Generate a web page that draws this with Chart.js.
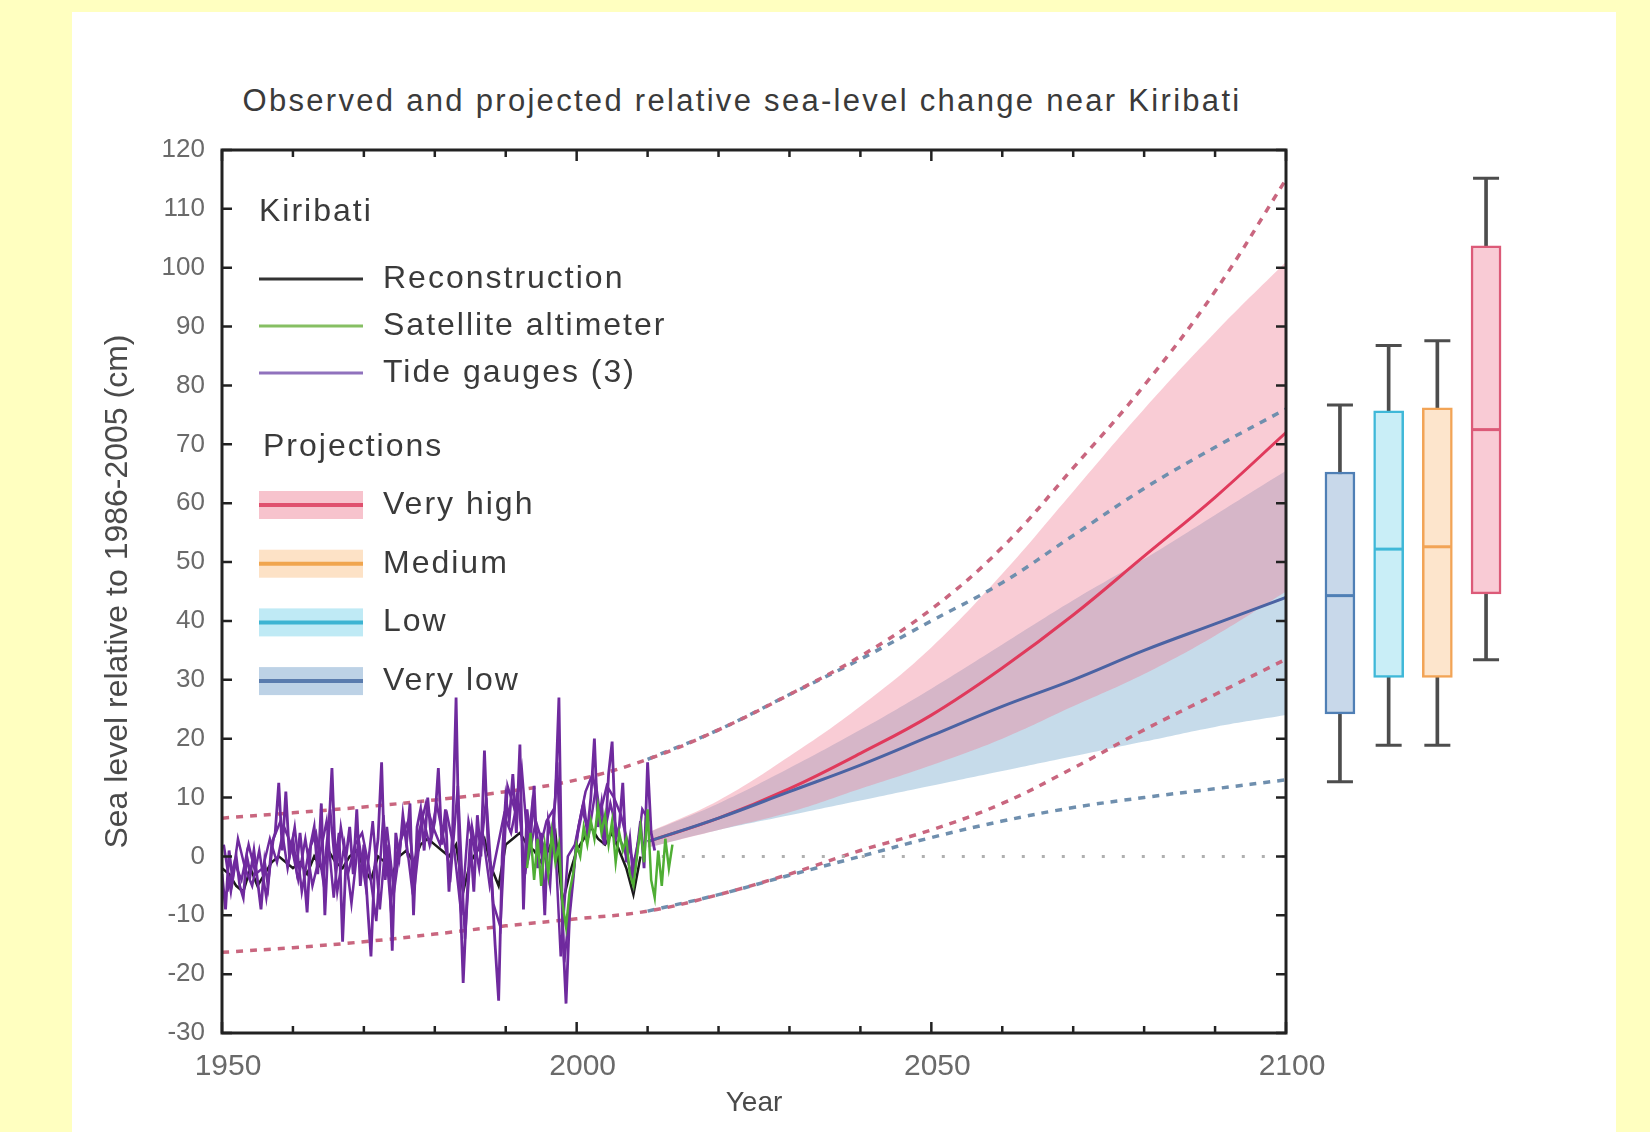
<!DOCTYPE html>
<html>
<head>
<meta charset="utf-8">
<script src="https://cdn.jsdelivr.net/npm/chart.js@4.4.0/dist/chart.umd.min.js"></script>
<style>
  html, body { margin: 0; padding: 0; }
  body { width: 1650px; height: 1132px; background: #ffffc0; position: relative; overflow: hidden; font-family: "Liberation Sans", Arial, sans-serif; }
  #panel { position: absolute; left: 72px; top: 12px; width: 1544px; height: 1120px; background: #fff; }
  #title { position: absolute; left: 0; width: 1484px; top: 82px; line-height: 38px; text-align: center; font-size: 31px; letter-spacing: 2.3px; color: #3a3a3a; }
  #mainChart { position: absolute; left: 0; top: 0; }
  #boxChart { position: absolute; left: 1290px; top: 0; }
</style>
</head>
<body>
<div id="panel"></div>
<div id="title">Observed and projected relative sea-level change near Kiribati</div>
<canvas id="mainChart" width="1340" height="1132"></canvas>
<canvas id="boxChart" width="326" height="1132"></canvas>
<script>
const FONT = '"Liberation Sans", Arial, sans-serif';

// observed records: three tide gauges
const tide1Start = 1950;
const tide1Step = 0.5;
const tideGauge1 = [
  -3, -9, 1, -4, 0, -5, -7, 0, -3, 1,
  -4, -9, -1, -5, 2, 4, 12.5, 1, 11, 0,
  3, -2, 4, -2, -9.5, 2, 5, -3, 9, -10,
  3, 15, -1, 4, -14.5, 0, 5, -3, 8, -5,
  2, -8, -17, -2, 3, 16, -4, 2, -16, 4,
  0, 7, 2, 9, -10, 5, 8, 1, 10, 3,
  6, 15, 2, 8, -6, 4, 27, -4, -21.5, -8,
  3, -6, 7, 0, 18, 2, -4, -15, -24.5, 0,
  10, 6, 14, 4, 19, -9, 8, 3, 12, -2,
  4, -10, 6, 3, 10, 27, -12, -25, -10, -4,
  3, 6, 9, 4, 10, 20, 5, 9, 2, 14,
  19.5, 3, 5, 12.5, -1, 3, -4, 1, 6, -2,
  16, 4, 1
];

const tide2Start = 1950.25;
const tide2Step = 1;
const tideGauge2 = [
  2, -6, 3, -2, -5, 1, -7, 3, 6, -2,
  5, -6, 1, 4, -4, 8, -6, 2, -8, 3,
  -5, 6, -9, 5, -6, 3, 6, -4, 7, 2,
  9, 3, -3, 12, -14, 5, -2, 10, -8, -12,
  12, 8, 15, 0, 6, 2, -5, 16, -18, -6,
  5, 11, 14, 7, 12, 10, 7, 2, -2, 8,
  6
];

const tide3Start = 1950.75;
const tide3Step = 1;
const tideGauge3 = [
  -6, -1, -4, 2, -3, -2, 3, -1, 5, 2,
  -4, 3, -5, 0, 6, -7, 5, -3, 2, 4,
  -2, -11, 7, -8, 1, 5, -5, 4, 9, 5,
  2, 7, 1, -10, 6, 0, 4, -5, 1, 7,
  4, 10, -3, 9, 1, 6, 8, -17, 0, 2,
  8, 4, 12, 3, 9, 4, 1, -3, 3
];

const reconStart = 1950;
const reconStep = 1;
const reconstruction = [
  -2, -3, -5, -6, -2, -5, -3, -1, 0, -1,
  -2, -1, -3, 0, -2, 1, -1, -2, 0, 1,
  -2, -4, 0, -1, -3, 0, 1, -1, 2, 3,
  2, 1, 0, 2, -6, -1, 1, 3, -2, -5,
  2, 3, 4, 2, 1, -1, 1, 4, -8, -3,
  1, 3, 5, 3, 2, 4, 1, -2, -6.5, 0
];

const satStart = 1993;
const satStep = 0.5;
const satellite = [
  -2, 4, -4, 3, -5, 2, -3, 4, -1, 2,
  -8, -12, -6, -3, 2, 0, 5, 2, 6, 3,
  8.5, 4, 7, 2, 6, -1, 4, 1, 3, -3,
  -5, 0, 5, -1, 8, -4, -7, 1, -5, 3,
  -2, 2
];

// projections
const dashYears = [1950, 1960, 1970, 1980, 1990, 2000, 2010, 2020, 2030, 2040, 2050, 2060, 2070, 2080, 2090, 2100];
const vhUpperDash = [6.5, 7.4, 8.4, 9.6, 11, 13, 16.5, 21.5, 27.5, 34, 42, 52.5, 66, 80, 96, 115];
const vhLowerDash = [-16.3, -15.5, -14.5, -13.2, -11.8, -10.6, -9.3, -6.5, -3, 1, 4.5, 9, 15, 21.5, 27.5, 33.5];

const projYears = [2010, 2020, 2030, 2040, 2050, 2060, 2070, 2080, 2090, 2100];
const vlUpperDash = [16.5, 21.5, 27.5, 33.5, 40, 46.5, 54.5, 62.5, 69.5, 76];
const vlLowerDash = [-9.3, -6.5, -3.2, 0, 3.2, 6, 8.3, 10, 11.5, 13];
const vhMedian = [2.5, 6.5, 11.5, 17.5, 24, 32, 41, 51, 61, 72];
const vhUpper = [4, 9.5, 17, 25.5, 35.5, 48, 62, 76, 89, 101];
const vhLower = [1.5, 4.5, 7.5, 11.5, 15.5, 20, 25.5, 31, 37.5, 45];
const vlMedian = [2.5, 6.5, 11, 15.5, 20.5, 25.5, 30, 35, 39.5, 44];
const vlUpper = [4, 9, 15, 21.5, 28.5, 36, 43.5, 50.5, 58, 65.5];
const vlLower = [1.5, 4.5, 7, 9.5, 12, 14.5, 17, 19.5, 22, 24];

const zeroYears = [2012, 2100];
const zeroLevel = [0, 0];

// axis ticks
const yTickValues = [-30, -20, -10, 0, 10, 20, 30, 40, 50, 60, 70, 80, 90, 100, 110, 120];
const xTickYears = [1950, 1960, 1970, 1980, 1990, 2000, 2010, 2020, 2030, 2040, 2050, 2060, 2070, 2080, 2090, 2100];

// 2100 box plots
const boxLabels = ['Very low', 'Low', 'Medium', 'Very high'];
const boxMin = [12.7, 18.9, 18.9, 33.4];
const boxQ1 = [24.2, 30.4, 30.4, 44.6];
const boxMedian = [44.3, 52.2, 52.6, 72.5];
const boxQ3 = [65.3, 75.7, 76.2, 103.7];
const boxMax = [76.7, 86.8, 87.6, 115.2];
const boxFill = ['#c8d8ea', '#c9eef7', '#fde5cc', '#f9cbd5'];
const boxEdge = ['#4f7fb5', '#3fb8d8', '#f2a456', '#dc5a78'];

const legendObserved = [
  { label: 'Reconstruction', color: '#333333' },
  { label: 'Satellite altimeter', color: '#86bf63' },
  { label: 'Tide gauges (3)', color: '#9072bd' }
];
const legendProjections = [
  { label: 'Very high', band: '#f7c3cd', line: '#e0506e' },
  { label: 'Medium', band: '#fde2c6', line: '#f0a54e' },
  { label: 'Low', band: '#bfeaf5', line: '#3db4d2' },
  { label: 'Very low', band: '#bdd2e6', line: '#5a7cae' }
];

function regular(start, step, values) {
  return values.map((v, i) => ({ x: start + i * step, y: v }));
}
function paired(xs, ys) {
  return xs.map((x, i) => ({ x: x, y: ys[i] }));
}
function line(label, data, opts) {
  return Object.assign({ label: label, data: data, pointRadius: 0, borderWidth: 3, fill: false, tension: 0 }, opts);
}

const purple = '#6f2a9e';
const redDash = '#c9667f';
const blueDash = '#6f8fae';

const datasets = [
  line('Satellite altimeter', regular(satStart, satStep, satellite), { borderColor: '#4fae34', borderWidth: 2.5, order: 1 }),
  line('Tide gauge 1', regular(tide1Start, tide1Step, tideGauge1), { borderColor: purple, borderWidth: 2.8, order: 2 }),
  line('Tide gauge 2', regular(tide2Start, tide2Step, tideGauge2), { borderColor: purple, borderWidth: 2.5, order: 2 }),
  line('Tide gauge 3', regular(tide3Start, tide3Step, tideGauge3), { borderColor: purple, borderWidth: 2.5, order: 2 }),
  line('Reconstruction', regular(reconStart, reconStep, reconstruction), { borderColor: '#1a1a1a', borderWidth: 2.5, order: 3 }),
  line('Very low', paired(projYears, vlMedian), { borderColor: '#4b63a3', tension: 0.4, order: 4 }),
  line('Very high', paired(projYears, vhMedian), { borderColor: '#e03a5c', tension: 0.4, order: 5 }),
  line('zero', paired(zeroYears, zeroLevel), { borderColor: '#b0b0b0', borderWidth: 3, borderDash: [3, 17], order: 6 }),
  line('very high upper', paired(dashYears, vhUpperDash), { borderColor: redDash, borderWidth: 3.5, borderDash: [7, 7], tension: 0.4, order: 7 }),
  line('very high lower', paired(dashYears, vhLowerDash), { borderColor: redDash, borderWidth: 3.5, borderDash: [7, 7], tension: 0.4, order: 7 }),
  line('very low upper', paired(projYears, vlUpperDash), { borderColor: blueDash, borderWidth: 3.5, borderDash: [7, 7], tension: 0.4, order: 7 }),
  line('very low lower', paired(projYears, vlLowerDash), { borderColor: blueDash, borderWidth: 3.5, borderDash: [7, 7], tension: 0.4, order: 7 })
];
// shaded ranges, each filled down to the dataset that follows it
const vhRangeIndex = datasets.length;
datasets.push(
  line('very high range', paired(projYears, vhUpper), { borderWidth: 0, tension: 0.4, fill: vhRangeIndex + 1, backgroundColor: 'rgba(238,120,145,0.38)', order: 8 }),
  line('very high range low', paired(projYears, vhLower), { borderWidth: 0, tension: 0.4, order: 8 })
);
const vlRangeIndex = datasets.length;
datasets.push(
  line('very low range', paired(projYears, vlUpper), { borderWidth: 0, tension: 0.4, fill: vlRangeIndex + 1, backgroundColor: 'rgba(120,170,205,0.42)', order: 9 }),
  line('very low range low', paired(projYears, vlLower), { borderWidth: 0, tension: 0.4, order: 9 })
);

// inward tick marks and the closed frame
const framePlugin = {
  id: 'frame',
  afterDraw(chart) {
    const { ctx, chartArea: a, scales: { x, y } } = chart;
    ctx.save();
    ctx.strokeStyle = '#222';
    ctx.lineWidth = 3;
    ctx.strokeRect(a.left, a.top, a.right - a.left, a.bottom - a.top);
    ctx.lineWidth = 2.5;
    ctx.beginPath();
    yTickValues.forEach(v => {
      const py = y.getPixelForValue(v);
      ctx.moveTo(a.left, py); ctx.lineTo(a.left + 10, py);
      ctx.moveTo(a.right, py); ctx.lineTo(a.right - 10, py);
    });
    xTickYears.forEach(v => {
      const px = x.getPixelForValue(v);
      const len = v % 50 === 0 ? 11 : 7;
      ctx.moveTo(px, a.bottom); ctx.lineTo(px, a.bottom - len);
      ctx.moveTo(px, a.top); ctx.lineTo(px, a.top + len);
    });
    ctx.stroke();
    ctx.restore();
  }
};

const legendPlugin = {
  id: 'insideLegend',
  afterDatasetsDraw(chart) {
    const { ctx, chartArea: a } = chart;
    const sx = a.left + 37, tx = a.left + 161, sw = 104;
    ctx.save();
    ctx.font = '32px ' + FONT;
    ctx.letterSpacing = '2px';
    ctx.fillStyle = '#3a3a3a';
    ctx.textBaseline = 'middle';
    ctx.fillText('Kiribati', sx, a.top + 62);
    legendObserved.forEach((item, i) => {
      const yy = a.top + 129 + i * 47;
      ctx.strokeStyle = item.color;
      ctx.lineWidth = 3;
      ctx.beginPath(); ctx.moveTo(sx, yy); ctx.lineTo(sx + sw, yy); ctx.stroke();
      ctx.fillStyle = '#3a3a3a';
      ctx.fillText(item.label, tx, yy);
    });
    ctx.fillText('Projections', sx + 4, a.top + 297);
    legendProjections.forEach((item, i) => {
      const yy = a.top + 355 + i * 58.7;
      ctx.fillStyle = item.band;
      ctx.fillRect(sx, yy - 14, sw, 28);
      ctx.strokeStyle = item.line;
      ctx.lineWidth = 4;
      ctx.beginPath(); ctx.moveTo(sx, yy); ctx.lineTo(sx + sw, yy); ctx.stroke();
      ctx.fillStyle = '#3a3a3a';
      ctx.fillText(item.label, tx, yy);
    });
    ctx.restore();
  }
};

new Chart(document.getElementById('mainChart'), {
  type: 'line',
  data: { datasets: datasets },
  options: {
    responsive: false,
    animation: false,
    layout: { padding: { top: 150, left: 0, right: 54, bottom: 0 } },
    plugins: { legend: { display: false }, tooltip: { enabled: false } },
    scales: {
      x: {
        type: 'linear', min: 1950, max: 2100,
        afterFit(s) { s.height = 99; s.paddingLeft = 0; s.paddingRight = 0; },
        grid: { display: false, drawTicks: false },
        border: { display: false },
        ticks: { stepSize: 50, padding: 16, labelOffset: 6, maxRotation: 0, autoSkip: false, color: '#6a6a6a', font: { size: 30, family: FONT }, callback: v => String(v) },
        title: { display: true, text: 'Year', color: '#4a4a4a', font: { size: 28, family: FONT }, padding: { top: 0, bottom: 12 } }
      },
      y: {
        min: -30, max: 120,
        afterFit(s) { s.width = 222; },
        grid: { display: false, drawTicks: false },
        border: { display: false },
        ticks: { stepSize: 10, padding: 17, color: '#6a6a6a', font: { size: 26, family: FONT } },
        title: { display: true, text: 'Sea level relative to 1986-2005 (cm)', color: '#4a4a4a', font: { size: 32, family: FONT }, padding: { top: 99, bottom: 0 } }
      }
    }
  },
  plugins: [legendPlugin, framePlugin]
});

// medians and whisker caps for the 2100 ranges
const boxMarks = {
  id: 'boxMarks',
  afterDatasetsDraw(chart) {
    const { ctx, scales: { y } } = chart;
    const bars = chart.getDatasetMeta(1).data;
    ctx.save();
    ctx.lineWidth = 3;
    bars.forEach((bar, i) => {
      ctx.strokeStyle = '#4d4d4d';
      ctx.beginPath();
      [boxMin[i], boxMax[i]].forEach(v => {
        const py = y.getPixelForValue(v);
        ctx.moveTo(bar.x - 13, py); ctx.lineTo(bar.x + 13, py);
      });
      ctx.stroke();
      ctx.strokeStyle = boxEdge[i];
      const pm = y.getPixelForValue(boxMedian[i]);
      ctx.beginPath(); ctx.moveTo(bar.x - 14, pm); ctx.lineTo(bar.x + 14, pm); ctx.stroke();
    });
    ctx.restore();
  }
};

new Chart(document.getElementById('boxChart'), {
  type: 'bar',
  data: {
    labels: boxLabels,
    datasets: [
      { label: 'whisker', data: boxMin.map((v, i) => [v, boxMax[i]]), backgroundColor: '#4d4d4d', barThickness: 3, grouped: false, order: 2 },
      { label: 'range', data: boxQ1.map((v, i) => [v, boxQ3[i]]), backgroundColor: boxFill, borderColor: boxEdge, borderWidth: 2.5, borderSkipped: false, barThickness: 30, grouped: false, order: 1 }
    ]
  },
  options: {
    responsive: false,
    animation: false,
    layout: { padding: { top: 150, bottom: 99, left: 25.6, right: 105.6 } },
    plugins: { legend: { display: false }, tooltip: { enabled: false } },
    scales: {
      x: { display: false },
      y: { display: false, min: -30, max: 120 }
    }
  },
  plugins: [boxMarks]
});
</script>
</body>
</html>
